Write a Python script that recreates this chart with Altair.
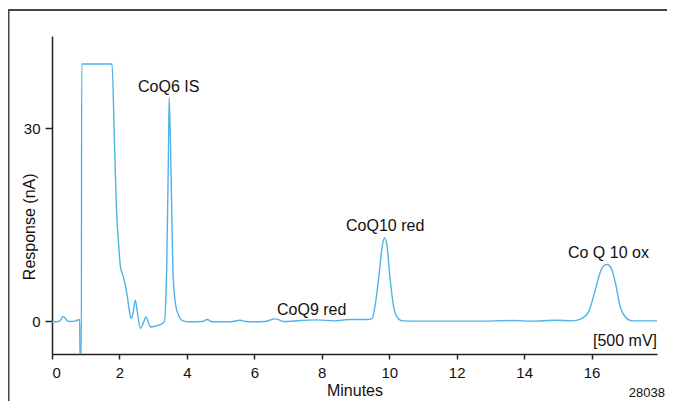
import altair as alt
import pandas as pd

# Chromatogram trace (minutes, response in nA)
minutes = [0.00, 0.15, 0.25, 0.33, 0.40, 0.46, 0.55, 0.70, 0.82, 0.83, 0.87, 0.88,
           1.78, 1.85, 1.91, 1.98, 2.03, 2.12, 2.22, 2.30, 2.34, 2.40, 2.47, 2.53,
           2.62, 2.70, 2.79, 2.86, 2.92, 3.06, 3.20, 3.33, 3.40, 3.45, 3.475, 3.53,
           3.59, 3.66, 3.75, 3.90, 4.05, 4.45, 4.60, 4.75, 5.30, 5.58, 5.75, 6.00,
           6.30, 6.62, 6.87, 7.36, 7.86, 8.35, 8.80, 9.39, 9.50, 9.59, 9.69, 9.79,
           9.86, 9.93, 10.03, 10.13, 10.23, 10.38, 11.00, 12.50, 13.75, 14.20, 14.98,
           15.40, 15.72, 15.91, 16.11, 16.26, 16.36, 16.46, 16.59, 16.71, 16.85,
           17.00, 17.20, 17.94]
response = [-0.05, -0.05, 0.2, 0.8, 0.45, 0.1, 0.0, 0.1, 0.3, -5.5, -5.5, 40.0,
            40.0, 28.2, 17.8, 11.6, 8.5, 6.9, 4.35, 1.5, 0.47, 1.2, 3.3, 1.5,
            -1.1, -0.3, 0.7, -0.2, -0.85, -0.73, -0.5, -0.05, 8.0, 25.0, 34.8, 23.0,
            7.5, 2.8, 1.0, 0.05, -0.05, 0.0, 0.3, -0.05, -0.05, 0.2, 0.0, -0.05,
            0.0, 0.4, 0.0, 0.15, 0.25, 0.1, 0.3, 0.3, 0.5, 2.8, 6.9, 11.6,
            13.0, 11.9, 6.4, 2.3, 0.7, 0.1, 0.05, 0.05, 0.15, 0.05, 0.2,
            0.1, 0.5, 1.5, 4.9, 7.7, 8.65, 8.86, 8.2, 5.9, 2.3,
            0.7, 0.1, 0.1]

# Peak annotations
peak_labels = ["CoQ6 IS", "CoQ9 red", "CoQ10 red", "Co Q 10 ox"]
peak_label_x = [3.46, 7.70, 9.88, 16.50]
peak_label_y = [35.7, 0.98, 14.0, 9.9]

x_ticks = [0, 2, 4, 6, 8, 10, 12, 14, 16]
y_ticks = [0, 30]

FONT = "Liberation Sans"
LINE_COLOR = "#4fb3e8"

df = pd.DataFrame({"Minutes": minutes, "Response": response})
labels_df = pd.DataFrame({"text": peak_labels, "x": peak_label_x, "y": peak_label_y})
scale_df = pd.DataFrame({"text": ["[500 mV]"], "x": [17.94], "y": [-3.85]})
one = pd.DataFrame({"a": [0]})

xscale = alt.Scale(domain=[0, 17.94], nice=False, zero=False)
yscale = alt.Scale(domain=[-5.05, 44.35], nice=False, zero=False)

line = alt.Chart(df).mark_line(
    color=LINE_COLOR, strokeWidth=1.4, interpolate="monotone", clip=True
).encode(
    x=alt.X("Minutes:Q", scale=xscale,
            axis=alt.Axis(values=x_ticks, title="Minutes", grid=False, tickSize=5,
                          labelPadding=6, titleY=41, titleBaseline="alphabetic",
                          titleAlign="center")),
    y=alt.Y("Response:Q", scale=yscale,
            axis=alt.Axis(values=y_ticks, title="Response (nA)", grid=False, tickSize=7,
                          labelPadding=5, titleX=-17.5, titleY=190.3, titleAngle=270,
                          titleAlign="center", titleBaseline="alphabetic")),
)

peak_text = alt.Chart(labels_df).mark_text(
    align="center", baseline="alphabetic", fontSize=16, font=FONT, color="#111"
).encode(
    x=alt.X("x:Q", scale=xscale),
    y=alt.Y("y:Q", scale=yscale),
    text="text:N",
)

mv_text = alt.Chart(scale_df).mark_text(
    align="right", baseline="alphabetic", fontSize=16, font=FONT, color="#111"
).encode(
    x=alt.X("x:Q", scale=xscale),
    y=alt.Y("y:Q", scale=yscale),
    text="text:N",
)

code_text = alt.Chart(one).mark_text(
    align="right", baseline="alphabetic", fontSize=13, font=FONT, color="#111"
).encode(x=alt.value(613), y=alt.value(361.3), text=alt.value("28038"))

# Outer frame (only its left and top edges fall inside the picture)
frame = alt.Chart(one).mark_rect(
    fill="white", fillOpacity=0, stroke="#444", strokeWidth=2
).encode(
    x=alt.value(-43.5), x2=alt.value(660), y=alt.value(-26), y2=alt.value(420)
)

chart = alt.layer(frame, line, peak_text, mv_text, code_text).properties(
    width=605,
    height=318,
    autosize=alt.AutoSizeParams(type="none"),
    padding={"left": 44, "top": 28, "right": 10, "bottom": 47},
    background="white",
).configure_view(stroke=None).configure_axis(
    domainColor="#222", domainWidth=1.5, tickColor="#222", tickWidth=1.5,
    labelColor="#111", labelFont=FONT, labelFontSize=15,
    titleColor="#111", titleFont=FONT, titleFontSize=16, titleFontWeight="normal",
)

chart.save("out.html", embed_options={"renderer": "svg", "actions": False})
